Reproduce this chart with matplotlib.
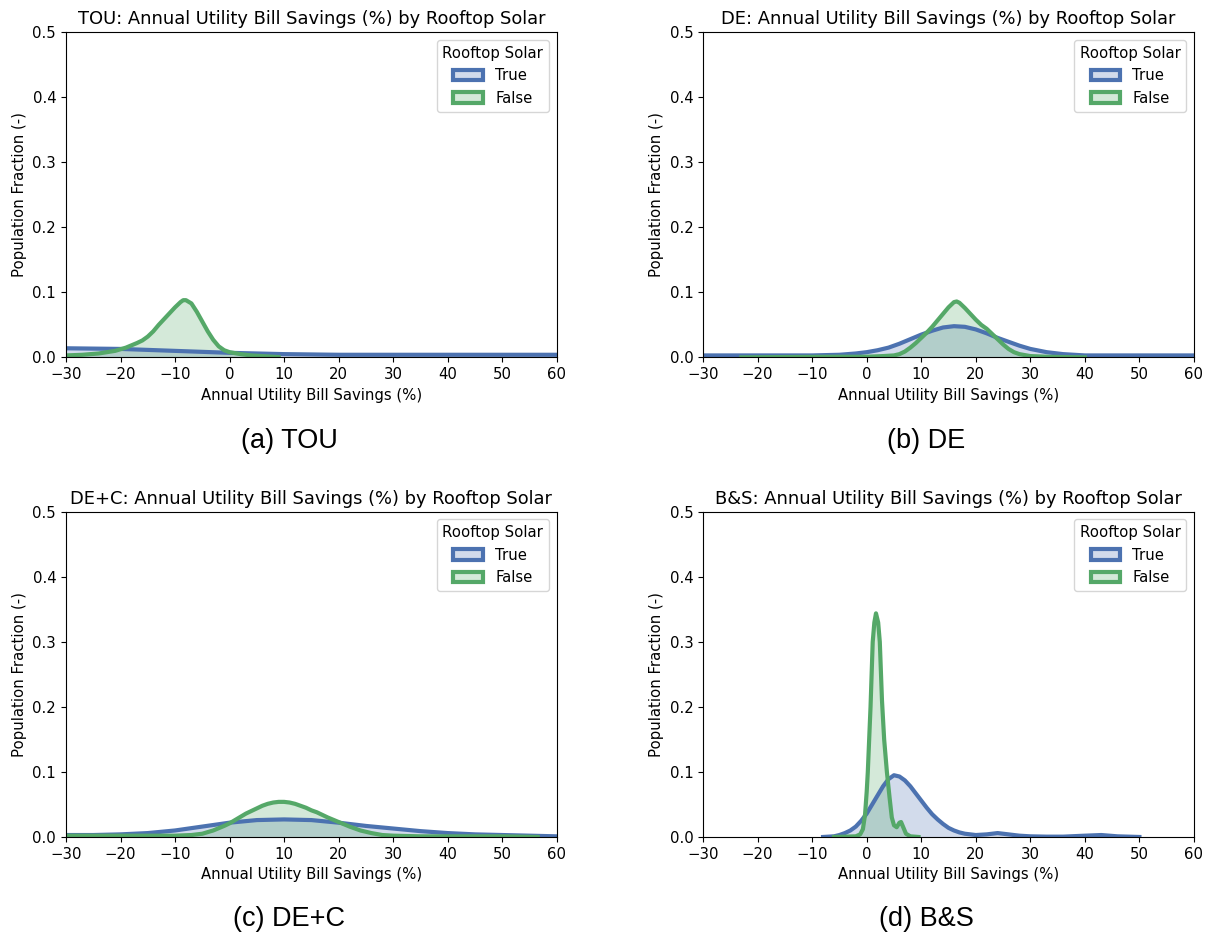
"""Annual utility bill savings distributions by rooftop solar for four tariffs."""

import matplotlib
matplotlib.use("Agg")
import matplotlib.pyplot as plt
from matplotlib.patches import Patch

BLUE = "#4c72b0"
GREEN = "#55a868"

# (a) TOU
tou_true_x = [-30, -25, -20, -15, -10, -5, 0, 5, 10, 15, 20, 30, 40, 50, 60]
tou_true_y = [0.014, 0.0135, 0.013, 0.0115, 0.010, 0.0085, 0.007, 0.006, 0.005,
              0.0045, 0.004, 0.004, 0.004, 0.004, 0.004]
tou_false_x = [-30, -27, -24, -21, -19, -17, -16, -15, -14, -13, -12, -11, -10, -9,
               -8.5, -8, -7, -6, -5, -4, -3, -2, -1, 0, 2, 4, 6, 9]
tou_false_y = [0.003, 0.004, 0.006, 0.010, 0.015, 0.022, 0.026, 0.032, 0.040, 0.050,
               0.059, 0.068, 0.077, 0.085, 0.088, 0.088, 0.083, 0.070, 0.055, 0.040,
               0.027, 0.017, 0.011, 0.008, 0.005, 0.003, 0.002, 0.0005]

# (b) DE
de_true_x = [-30, -20, -10, -5, -2, 0, 2, 4, 6, 8, 10, 12, 14, 16, 18, 20, 22, 24,
             26, 28, 30, 33, 36, 40, 50, 60]
de_true_y = [0.003, 0.003, 0.003, 0.004, 0.006, 0.008, 0.011, 0.015, 0.021, 0.028,
             0.035, 0.041, 0.046, 0.048, 0.047, 0.043, 0.037, 0.030, 0.024, 0.018,
             0.013, 0.008, 0.005, 0.003, 0.003, 0.003]
de_false_x = [-23, -15, -5, 0, 3, 5, 6, 7, 8, 9, 10, 11, 12, 13, 14, 15, 16, 16.5,
              17, 18, 19, 20, 21, 22, 23, 24, 25, 26, 27, 28, 30, 33, 36, 40]
de_false_y = [0.0, 0.0005, 0.001, 0.001, 0.002, 0.003, 0.005, 0.009, 0.015, 0.022,
              0.030, 0.038, 0.047, 0.057, 0.067, 0.077, 0.085, 0.086, 0.084, 0.076,
              0.067, 0.058, 0.050, 0.044, 0.036, 0.028, 0.020, 0.013, 0.008, 0.005,
              0.002, 0.001, 0.0005, 0.0]

# (c) DE+C
dec_true_x = [-30, -25, -20, -15, -10, -5, 0, 5, 10, 15, 20, 25, 30, 35, 40, 45, 50,
              55, 60]
dec_true_y = [0.003, 0.003, 0.004, 0.006, 0.010, 0.016, 0.022, 0.026, 0.027, 0.026,
              0.022, 0.017, 0.013, 0.009, 0.006, 0.004, 0.003, 0.002, 0.001]
dec_false_x = [-30, -20, -10, -7, -5, -3, -1, 0, 1, 2, 3, 4, 5, 6, 7, 8, 9, 10, 11,
               12, 13, 14, 15, 16, 17, 18, 20, 22, 24, 26, 28, 30, 35, 40, 50, 56.5]
dec_false_y = [0.002, 0.002, 0.002, 0.003, 0.005, 0.010, 0.017, 0.021, 0.026, 0.031,
               0.036, 0.040, 0.044, 0.048, 0.051, 0.053, 0.054, 0.054, 0.053, 0.051,
               0.048, 0.045, 0.041, 0.038, 0.034, 0.030, 0.023, 0.016, 0.010, 0.006,
               0.003, 0.002, 0.001, 0.001, 0.001, 0.0]

# (d) B&S
bs_true_x = [-8, -6, -5, -4, -3, -2, -1, 0, 1, 2, 3, 4, 5, 6, 7, 8, 9, 10, 11, 12,
             13, 14, 15, 16, 17, 18, 20, 22, 24, 26, 28, 30, 33, 36, 40, 43, 46, 50]
bs_true_y = [0.0, 0.001, 0.003, 0.006, 0.010, 0.016, 0.025, 0.036, 0.050, 0.064,
             0.078, 0.089, 0.095, 0.093, 0.087, 0.078, 0.067, 0.056, 0.045, 0.035,
             0.027, 0.020, 0.014, 0.010, 0.007, 0.005, 0.003, 0.004, 0.006, 0.004,
             0.002, 0.001, 0.0005, 0.0005, 0.002, 0.003, 0.001, 0.0]
bs_false_x = [-6, -4, -2, -1.2, -0.7, -0.3, 0, 0.2, 0.5, 0.7, 0.9, 1.1, 1.4, 1.7,
              2.1, 2.4, 2.8, 3.2, 3.7, 4.2, 4.6, 5.0, 5.5, 6.0, 6.3, 6.7, 7.2, 8, 9.5]
bs_false_y = [0.0, 0.0005, 0.001, 0.004, 0.012, 0.035, 0.070, 0.100, 0.160, 0.200,
              0.250, 0.300, 0.330, 0.344, 0.330, 0.300, 0.210, 0.150, 0.100, 0.060,
              0.030, 0.018, 0.015, 0.022, 0.023, 0.015, 0.005, 0.001, 0.0]

panels = [
    ("TOU", "(a) TOU", tou_true_x, tou_true_y, tou_false_x, tou_false_y),
    ("DE", "(b) DE", de_true_x, de_true_y, de_false_x, de_false_y),
    ("DE+C", "(c) DE+C", dec_true_x, dec_true_y, dec_false_x, dec_false_y),
    ("B&S", "(d) B&S", bs_true_x, bs_true_y, bs_false_x, bs_false_y),
]

x_ticks = [-30, -20, -10, 0, 10, 20, 30, 40, 50, 60]
y_ticks = [0.0, 0.1, 0.2, 0.3, 0.4, 0.5]

fig = plt.figure(figsize=(12.06, 9.38), dpi=100)
positions = [
    [0.0547, 0.619, 0.407, 0.3465],
    [0.583, 0.619, 0.407, 0.3465],
    [0.0547, 0.1077, 0.407, 0.3465],
    [0.583, 0.1077, 0.407, 0.3465],
]
# caption anchors (figure fraction, centre of text)
caption_xy = [(0.2396, 0.530), (0.768, 0.530), (0.2396, 0.020), (0.768, 0.020)]

fs = 10.75
for pos, (cx, cy), (name, caption, tx, ty, fx, fy) in zip(positions, caption_xy, panels):
    ax = fig.add_axes(pos)
    ax.fill_between(tx, ty, 0, color=BLUE, alpha=0.25, linewidth=0)
    ax.plot(tx, ty, color=BLUE, lw=3)
    ax.fill_between(fx, fy, 0, color=GREEN, alpha=0.25, linewidth=0)
    ax.plot(fx, fy, color=GREEN, lw=3)

    ax.set_xlim(-30, 60)
    ax.set_ylim(0, 0.5)
    ax.set_xticks(x_ticks)
    ax.set_yticks(y_ticks)
    ax.tick_params(labelsize=fs)
    ax.set_title(name + ": Annual Utility Bill Savings (%) by Rooftop Solar", fontsize=12.9)
    ax.set_xlabel("Annual Utility Bill Savings (%)", fontsize=fs)
    ax.set_ylabel("Population Fraction (-)", fontsize=fs)

    handles = [
        Patch(facecolor=(0.298, 0.447, 0.690, 0.25), edgecolor=BLUE, linewidth=3),
        Patch(facecolor=(0.333, 0.659, 0.408, 0.25), edgecolor=GREEN, linewidth=3),
    ]
    ax.legend(handles, ["True", "False"], title="Rooftop Solar", loc="upper right",
              fontsize=fs, title_fontsize=fs)

    fig.text(cx, cy, caption, ha="center", va="center", fontsize=19.5,
             family="Liberation Sans")

plt.savefig("out.png", dpi=100)
